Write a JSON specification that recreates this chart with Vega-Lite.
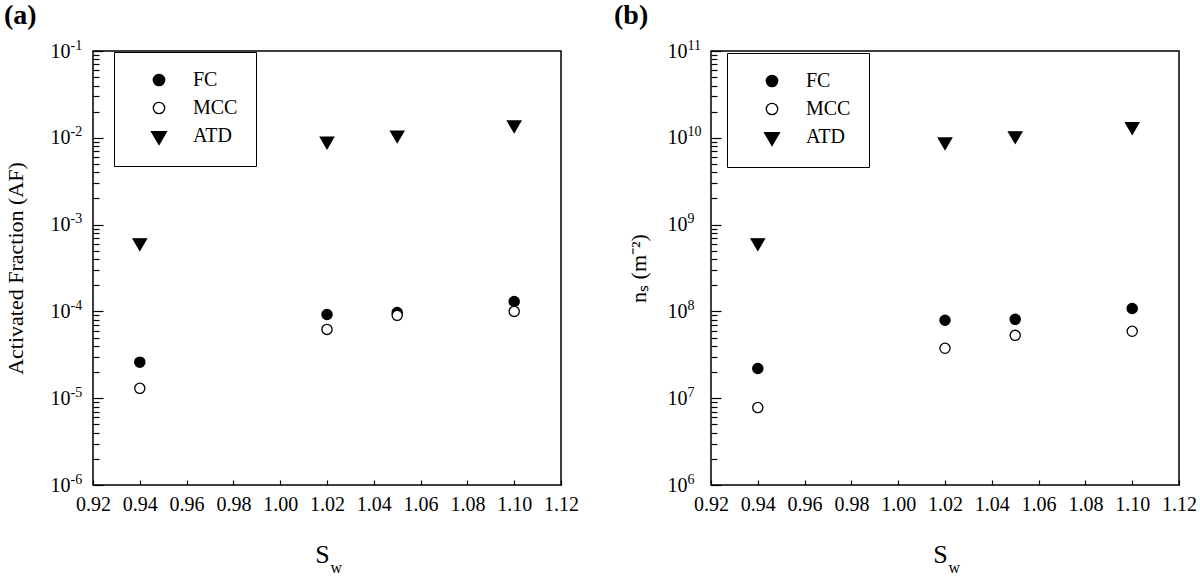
{
  "$schema": "https://vega.github.io/schema/vega-lite/v6.json",
  "background": "white",
  "padding": {"left": 3, "top": 1, "right": 4, "bottom": 4},
  "config": {
    "font": "Liberation Serif",
    "view": {"stroke": "black", "strokeWidth": 1.5},
    "title": {"fontSize": 28, "fontWeight": "bold", "anchor": "start", "frame": "bounds", "color": "black", "offset": 8},
    "axis": {
      "grid": false, "domain": false,
      "labelFont": "Liberation Serif", "labelFontSize": 20, "labelColor": "black",
      "tickColor": "black", "tickWidth": 1.2,
      "titleFont": "Liberation Serif", "titleFontWeight": "normal", "titleColor": "black",
      "labelOverlap": false, "labelBound": false, "labelFlush": false
    },
    "legend": {
      "labelFont": "Liberation Serif", "labelFontSize": 20, "labelColor": "black",
      "strokeColor": "black", "fillColor": "white", "padding": 18,
      "symbolOffset": 17, "labelOffset": 24, "rowPadding": 8, "symbolSize": 130,
      "symbolStrokeWidth": 1.3
    }
  },
  "datasets": {
    "a": [
      {"sw": 0.94, "series": "FC", "value": 2.6e-5},
      {"sw": 1.02, "series": "FC", "value": 9.2e-5},
      {"sw": 1.05, "series": "FC", "value": 9.7e-5},
      {"sw": 1.10, "series": "FC", "value": 1.3e-4},
      {"sw": 0.94, "series": "MCC", "value": 1.3e-5},
      {"sw": 1.02, "series": "MCC", "value": 6.2e-5},
      {"sw": 1.05, "series": "MCC", "value": 9.0e-5},
      {"sw": 1.10, "series": "MCC", "value": 1.0e-4},
      {"sw": 0.94, "series": "ATD", "value": 6.2e-4},
      {"sw": 1.02, "series": "ATD", "value": 9.2e-3},
      {"sw": 1.05, "series": "ATD", "value": 1.08e-2},
      {"sw": 1.10, "series": "ATD", "value": 1.41e-2}
    ],
    "b": [
      {"sw": 0.94, "series": "FC", "value": 2.2e7},
      {"sw": 1.02, "series": "FC", "value": 7.9e7},
      {"sw": 1.05, "series": "FC", "value": 8.1e7},
      {"sw": 1.10, "series": "FC", "value": 1.08e8},
      {"sw": 0.94, "series": "MCC", "value": 7.8e6},
      {"sw": 1.02, "series": "MCC", "value": 3.76e7},
      {"sw": 1.05, "series": "MCC", "value": 5.3e7},
      {"sw": 1.10, "series": "MCC", "value": 5.9e7},
      {"sw": 0.94, "series": "ATD", "value": 6.2e8},
      {"sw": 1.02, "series": "ATD", "value": 9.0e9},
      {"sw": 1.05, "series": "ATD", "value": 1.06e10},
      {"sw": 1.10, "series": "ATD", "value": 1.35e10}
    ]
  },
  "spacing": 33,
  "resolve": {
    "scale": {"shape": "independent", "fill": "independent", "stroke": "independent"},
    "legend": {"shape": "independent", "fill": "independent", "stroke": "independent"}
  },
  "hconcat": [
    {
      "title": "(a)",
      "width": 468,
      "height": 434,
      "data": {"name": "a"},
      "layer": [
        {
          "mark": {"type": "point", "filled": true, "strokeWidth": 1.3, "opacity": 1, "size": 104},
          "encoding": {
            "x": {
              "field": "sw", "type": "quantitative",
              "scale": {"domain": [0.92, 1.12], "nice": false, "zero": false},
              "axis": {
                "values": [0.92, 0.94, 0.96, 0.98, 1.0, 1.02, 1.04, 1.06, 1.08, 1.1, 1.12],
                "format": ".2f", "tickSize": -5, "labelPadding": 14,
                "title": "S", "titleFontSize": 26, "titleX": 229, "titleY": 77,
                "titleBaseline": "alphabetic", "titleAlign": "center"
              }
            },
            "y": {
              "field": "value", "type": "quantitative",
              "scale": {"type": "log", "domain": [1e-6, 0.1], "nice": false},
              "axis": {
                "values": [1e-6, 1e-5, 1e-4, 1e-3, 1e-2, 1e-1],
                "labelExpr": "'10'",
                "tickSize": -10, "labelPadding": 33,
                "title": "Activated Fraction (AF)", "titleFontSize": 22, "titlePadding": 23
              }
            },
            "shape": {
              "field": "series", "type": "nominal",
              "scale": {"domain": ["FC", "MCC", "ATD"], "range": ["circle", "circle", "M-1.31,-0.75L1.31,-0.75L0,1.5Z"]},
              "legend": {"title": null, "orient": "none", "legendX": 21, "legendY": 1}
            },
            "fill": {
              "field": "series", "type": "nominal",
              "scale": {"domain": ["FC", "MCC", "ATD"], "range": ["black", "white", "black"]},
              "legend": {"title": null, "orient": "none", "legendX": 21, "legendY": 1}
            },
            "stroke": {
              "field": "series", "type": "nominal",
              "scale": {"domain": ["FC", "MCC", "ATD"], "range": ["black", "black", "black"]},
              "legend": {"title": null, "orient": "none", "legendX": 21, "legendY": 1}
            }
          }
        },
        {
          "mark": {"type": "point", "opacity": 0},
          "encoding": {
            "x": {
              "field": "sw", "type": "quantitative",
              "scale": {"domain": [0.92, 1.12], "nice": false, "zero": false},
              "axis": {
                "orient": "bottom", "labels": false, "ticks": false, "domain": false,
                "title": "w", "titleFontSize": 16, "titleX": 237, "titleY": 87,
                "titleAlign": "left", "titleBaseline": "alphabetic"
              }
            },
            "y": {
              "field": "value", "type": "quantitative",
              "scale": {"type": "log", "domain": [1e-6, 0.1], "nice": false},
              "axis": {
                "orient": "left", "labels": false, "tickSize": -6, "domain": false, "title": null,
                "values": [2e-6, 3e-6, 4e-6, 5e-6, 6e-6, 7e-6, 8e-6, 9e-6,
                           2e-5, 3e-5, 4e-5, 5e-5, 6e-5, 7e-5, 8e-5, 9e-5,
                           2e-4, 3e-4, 4e-4, 5e-4, 6e-4, 7e-4, 8e-4, 9e-4,
                           2e-3, 3e-3, 4e-3, 5e-3, 6e-3, 7e-3, 8e-3, 9e-3,
                           2e-2, 3e-2, 4e-2, 5e-2, 6e-2, 7e-2, 8e-2, 9e-2]
              }
            }
          }
        },
        {
          "mark": {"type": "point", "opacity": 0},
          "encoding": {
            "x": {"field": "sw", "type": "quantitative", "scale": {"domain": [0.92, 1.12], "nice": false, "zero": false}, "axis": null},
            "y": {
              "field": "value", "type": "quantitative",
              "scale": {"type": "log", "domain": [1e-6, 0.1], "nice": false},
              "axis": {
                "orient": "left", "ticks": false, "tickSize": 0, "domain": false, "title": null,
                "values": [1e-6, 1e-5, 1e-4, 1e-3, 1e-2, 1e-1],
                "labelExpr": "'-' + round(-log(datum.value)/LN10)",
                "labelFontSize": 14, "labelAlign": "left", "labelPadding": 23, "labelOffset": -6
              }
            }
          }
        }
      ],
      "resolve": {"axis": {"x": "independent", "y": "independent"}}
    },
    {
      "title": {"text": "(b)", "dx": -13},
      "width": 468,
      "height": 434,
      "data": {"name": "b"},
      "layer": [
        {
          "mark": {"type": "point", "filled": true, "strokeWidth": 1.3, "opacity": 1, "size": 104},
          "encoding": {
            "x": {
              "field": "sw", "type": "quantitative",
              "scale": {"domain": [0.92, 1.12], "nice": false, "zero": false},
              "axis": {
                "values": [0.92, 0.94, 0.96, 0.98, 1.0, 1.02, 1.04, 1.06, 1.08, 1.1, 1.12],
                "format": ".2f", "tickSize": -5, "labelPadding": 14,
                "title": "S", "titleFontSize": 26, "titleX": 229, "titleY": 77,
                "titleBaseline": "alphabetic", "titleAlign": "center"
              }
            },
            "y": {
              "field": "value", "type": "quantitative",
              "scale": {"type": "log", "domain": [1e6, 1e11], "nice": false},
              "axis": {
                "values": [1e6, 1e7, 1e8, 1e9, 1e10, 1e11],
                "labelExpr": "'10'",
                "tickSize": -10, "labelPadding": 34,
                "title": "nₛ (m⁻²)", "titleFontSize": 22, "titlePadding": 17
              }
            },
            "shape": {
              "field": "series", "type": "nominal",
              "scale": {"domain": ["FC", "MCC", "ATD"], "range": ["circle", "circle", "M-1.31,-0.75L1.31,-0.75L0,1.5Z"]},
              "legend": {"title": null, "orient": "none", "legendX": 16, "legendY": 2}
            },
            "fill": {
              "field": "series", "type": "nominal",
              "scale": {"domain": ["FC", "MCC", "ATD"], "range": ["black", "white", "black"]},
              "legend": {"title": null, "orient": "none", "legendX": 16, "legendY": 2}
            },
            "stroke": {
              "field": "series", "type": "nominal",
              "scale": {"domain": ["FC", "MCC", "ATD"], "range": ["black", "black", "black"]},
              "legend": {"title": null, "orient": "none", "legendX": 16, "legendY": 2}
            }
          }
        },
        {
          "mark": {"type": "point", "opacity": 0},
          "encoding": {
            "x": {
              "field": "sw", "type": "quantitative",
              "scale": {"domain": [0.92, 1.12], "nice": false, "zero": false},
              "axis": {
                "orient": "bottom", "labels": false, "ticks": false, "domain": false,
                "title": "w", "titleFontSize": 16, "titleX": 237, "titleY": 87,
                "titleAlign": "left", "titleBaseline": "alphabetic"
              }
            },
            "y": {
              "field": "value", "type": "quantitative",
              "scale": {"type": "log", "domain": [1e6, 1e11], "nice": false},
              "axis": {
                "orient": "left", "labels": false, "tickSize": -6, "domain": false, "title": null,
                "values": [2e6, 3e6, 4e6, 5e6, 6e6, 7e6, 8e6, 9e6,
                           2e7, 3e7, 4e7, 5e7, 6e7, 7e7, 8e7, 9e7,
                           2e8, 3e8, 4e8, 5e8, 6e8, 7e8, 8e8, 9e8,
                           2e9, 3e9, 4e9, 5e9, 6e9, 7e9, 8e9, 9e9,
                           2e10, 3e10, 4e10, 5e10, 6e10, 7e10, 8e10, 9e10]
              }
            }
          }
        },
        {
          "mark": {"type": "point", "opacity": 0},
          "encoding": {
            "x": {"field": "sw", "type": "quantitative", "scale": {"domain": [0.92, 1.12], "nice": false, "zero": false}, "axis": null},
            "y": {
              "field": "value", "type": "quantitative",
              "scale": {"type": "log", "domain": [1e6, 1e11], "nice": false},
              "axis": {
                "orient": "left", "ticks": false, "tickSize": 0, "domain": false, "title": null,
                "values": [1e6, 1e7, 1e8, 1e9, 1e10, 1e11],
                "labelExpr": "'' + round(log(datum.value)/LN10)",
                "labelFontSize": 14, "labelAlign": "left", "labelPadding": 24, "labelOffset": -6
              }
            }
          }
        }
      ],
      "resolve": {"axis": {"x": "independent", "y": "independent"}}
    }
  ]
}
